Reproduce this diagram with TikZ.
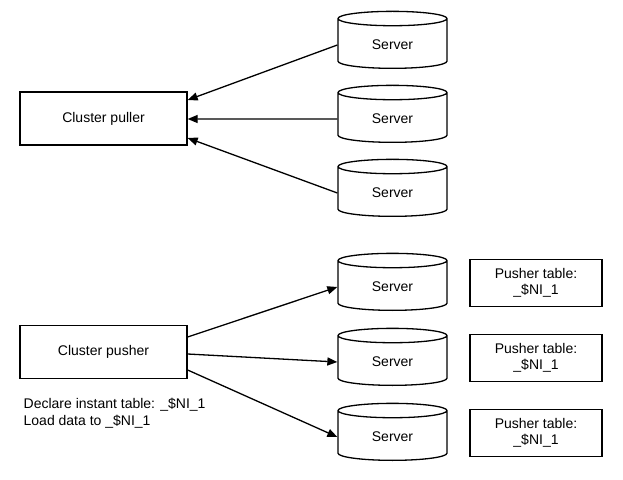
\documentclass[tikz,border=0pt]{standalone}
\usepackage{fontspec}
\setmainfont{Liberation Sans}
\usetikzlibrary{shapes.geometric,arrows.meta,positioning}

\begin{document}
\begin{tikzpicture}[x=1pt,y=-1pt,
  font=\fontsize{14}{16}\selectfont,
  every path/.style={line width=1.3pt},
  box/.style={draw,line width=1.3pt,minimum width=167pt,minimum height=53pt},
  server/.style={draw,line width=1.3pt,cylinder,shape border rotate=90,aspect=0.3,
    minimum width=109pt,minimum height=57pt},
  tablebox/.style={draw,line width=1.3pt,minimum width=132pt,minimum height=47pt,align=center},
  link/.style={line width=1.3pt,-{Triangle[length=10pt,width=8pt]}}]
  \useasboundingbox (0,0) rectangle (623,479);

  % Puller side
  \node[box] (puller) at (103.5,118.5) {Cluster puller};
  \node[server] (s1) at (392.5,45) {Server};
  \node[server] (s2) at (392.5,119) {Server};
  \node[server] (s3) at (392.5,193) {Server};

  \draw[link] (s1.west) -- (puller.east |- 0,100);
  \draw[link] (s2.west) -- (puller.east |- 0,119);
  \draw[link] (s3.west) -- (puller.east |- 0,138);

  % Pusher side
  \node[box] (pusher) at (103.5,352) {Cluster pusher};
  \node[server] (s4) at (392.5,287) {Server};
  \node[server] (s5) at (392.5,362) {Server};
  \node[server] (s6) at (392.5,437) {Server};
  \node[tablebox] (t4) at (536,283) {Pusher table:\\ \_\$NI\_1};
  \node[tablebox] (t5) at (536,358) {Pusher table:\\ \_\$NI\_1};
  \node[tablebox] (t6) at (536,433) {Pusher table:\\ \_\$NI\_1};

  \draw[link] (pusher.east |- 0,337) -- (s4.west);
  \draw[link] (pusher.east |- 0,354) -- (s5.west);
  \draw[link] (pusher.east |- 0,370) -- (s6.west);

  \node[anchor=north west,align=left,inner sep=0pt] (note) at (23,397)
    {Declare instant table: \_\$NI\_1\\[1pt] Load data to \_\$NI\_1};
\end{tikzpicture}
\end{document}
